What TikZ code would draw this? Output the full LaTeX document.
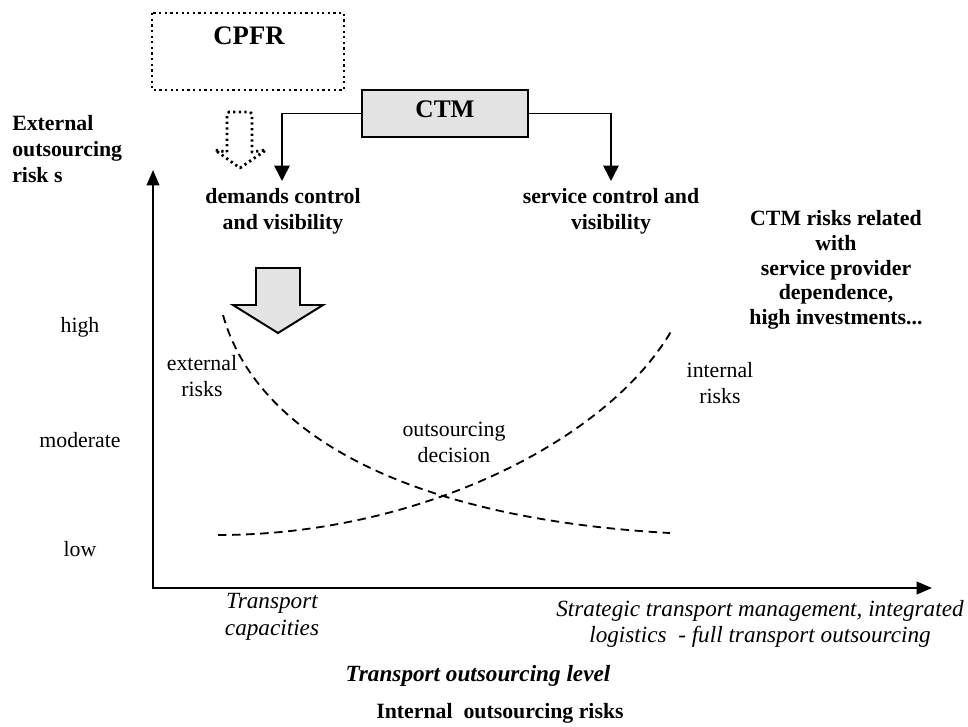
\documentclass[tikz,border=0pt]{standalone}
\usepackage{fontspec}
\setmainfont{Liberation Serif}
\usetikzlibrary{arrows.meta}
\begin{document}
\begin{tikzpicture}[x=0.025cm,y=-0.025cm,
  txt/.style={font=\fontsize{15.5}{18.5}\selectfont, align=center, inner sep=0pt},
  btxt/.style={txt, font=\fontsize{15.5}{18.5}\selectfont\bfseries},
  itxt/.style={txt, font=\fontsize{16.5}{19}\selectfont\itshape},
  axis/.style={line width=1.5pt, -{Triangle[length=11pt,width=9pt]}},
  conn/.style={line width=1.1pt, -{Triangle[length=11pt,width=11pt]}},
  dcurve/.style={line width=1.3pt, dash pattern=on 6pt off 4pt},
  dotbox/.style={line width=2pt, dash pattern=on 1.6pt off 2.4pt},
  graybox/.style={draw, line width=1.4pt, fill=gray!22}]
\useasboundingbox (0,0) rectangle (968,726);

% CPFR dotted box
\draw[dotbox] (152,13) rectangle (344,90);
\node[btxt, font=\fontsize{19}{22}\selectfont\bfseries] (cpfr) at (249,36) {CPFR};

% CTM box
\node[graybox, minimum width=166*0.025cm, minimum height=47*0.025cm, inner sep=0pt] (ctmbox) at (445,113.5) {};
\node[btxt, font=\fontsize{18}{21}\selectfont\bfseries] (ctm) at (445,109) {CTM};

% demands / service
\node[btxt] (dem) at (283,211) {demands control\\and visibility};
\node[btxt] (serv) at (611,211) {service control and\\visibility};
\coordinate (demtip) at (282,181);
\coordinate (servtip) at (611,181);
\draw[conn] (ctmbox.west) -| (demtip);
\draw[conn] (ctmbox.east) -| (servtip);

% dotted block arrow
\draw[dotbox, line join=round] (227,152) -- (227,114) -- (229,112) -- (250,112) -- (252,114) -- (252,152)
  -- (266,150) -- (240,168) -- (215,150) -- cycle;

% axes
\coordinate (origin) at (153,588);
\coordinate (ytop) at (153,170);
\coordinate (xend) at (932,588);
\draw[axis] (origin) -- (ytop);
\draw[axis] ([xshift=-0.7pt]origin) -- (xend);

\node[btxt, align=left, anchor=north west] (ylab) at (12,115) {External\\outsourcing\\risk s};

% gray block arrow
\draw[line width=1.4pt, fill=gray!22, line join=miter] (256,268) -- (300,268) -- (300,305) -- (323,305)
  -- (278,333) -- (233,305) -- (256,305) -- cycle;

% levels
\node[txt] (high) at (80,327) {high};
\node[txt] (mod) at (80,440) {moderate};
\node[txt] (low) at (80,549) {low};

% curves
\draw[dcurve] (223,315) .. controls (255,430) and (400,518) .. (670,533);
\draw[dcurve] (218,535) .. controls (420,535) and (610,440) .. (673,328);

\node[txt] (ext) at (202,376) {external\\risks};
\node[txt] (int) at (720,383) {internal\\risks};
\node[txt] (dec) at (454,442) {outsourcing\\decision};

% CTM risks text
\node[btxt, font=\fontsize{15.5}{17.6}\selectfont\bfseries] (ctmr) at (836,270) {CTM risks related\\with\\service provider\\dependence,\\high investments...};

% x labels
\node[itxt] (tc) at (272,617) {Transport\\capacities};
\node[itxt] (stm) at (760,624) {Strategic transport management, integrated\\logistics\ \ - full transport outsourcing};
\node[txt, font=\fontsize{16.5}{19}\selectfont\bfseries\itshape] (tol) at (478,676) {Transport outsourcing level};
\node[btxt] (ior) at (500,713) {Internal\ \ outsourcing risks};
\end{tikzpicture}
\end{document}
